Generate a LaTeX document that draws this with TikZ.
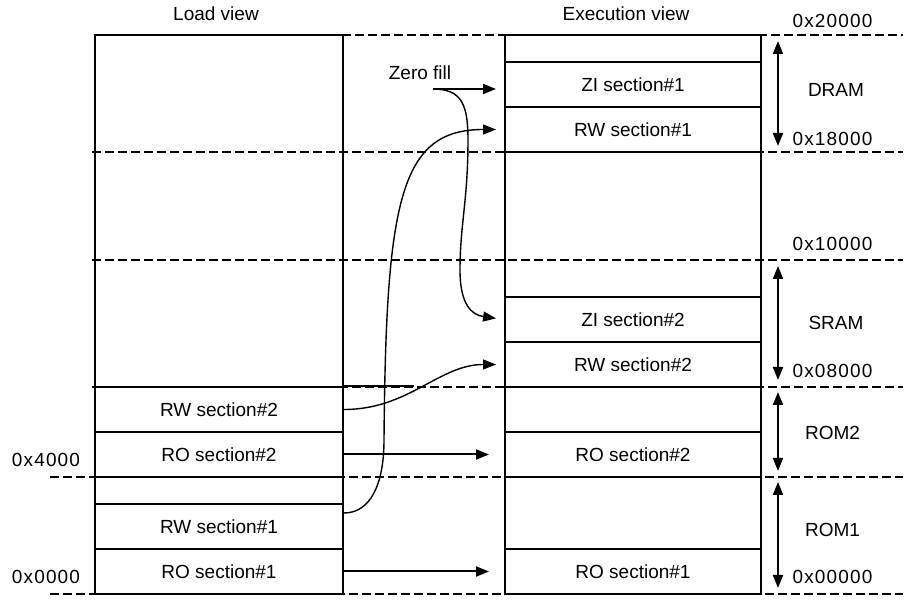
\documentclass[tikz,border=0pt]{standalone}
\usepackage{fontspec}
\setmainfont{Liberation Sans}
\usetikzlibrary{arrows.meta}
\tikzset{memmap/.style={x=0.5pt,y=-0.5pt,font=\fontsize{9.5}{11}\selectfont},
  secbox/.style={draw,line width=1pt,minimum height=22.5pt,inner sep=0pt},
  lsec/.style={secbox,minimum width=124pt},
  esec/.style={secbox,minimum width=128pt},
  lbl/.style={inner sep=0pt},
  addr/.style={lbl,font=\fontsize{9.5}{11}\selectfont\addfontfeature{LetterSpace=6}},
  bound/.style={dash pattern=on 4.5pt off 2pt,line width=0.85pt},
  span/.style={{Triangle[length=6.5pt,width=5pt]}-{Triangle[length=6.5pt,width=5pt]},line width=1pt},
  mapto/.style={-{Triangle[length=6.5pt,width=5pt]},line width=1pt},
  fillto/.style={-{Triangle[length=6.5pt,width=5pt]},line width=0.7pt}}

\begin{document}
\begin{tikzpicture}[memmap]
    \useasboundingbox (0,0) rectangle (918,609);
    % region boundaries
    \foreach \y/\xs in {35/95,152/92,260/92,387/92,477/50,594/50}
      \draw[bound] (\xs,\y) -- (903,\y);
    \draw[line width=1pt] (95,35) rectangle (343,594);
    \draw[line width=1pt] (505,35) rectangle (761,594);
    \node[lbl] (lhead) at (216,14) {Load view};
    \node[lbl] (ehead) at (626,14) {Execution view};
    % load view
    \node[lsec] (lrw2) at (219,409.5) {RW section\#2};
    \node[lsec] (lro2) at (219,454.5) {RO section\#2};
    \node[lsec] (lrw1) at (219,526.5) {RW section\#1};
    \node[lsec] (lro1) at (219,571.5) {RO section\#1};
    \draw[line width=1pt] (lrw2.north east) -- ++(70,0);
    % execution view
    \node[esec] (ezi1) at (633,84.5) {ZI section\#1};
    \node[esec] (erw1) at (633,129.5) {RW section\#1};
    \node[esec] (ezi2) at (633,319.5) {ZI section\#2};
    \node[esec] (erw2) at (633,364.5) {RW section\#2};
    \node[esec] (ero2) at (633,454.5) {RO section\#2};
    \node[esec] (ero1) at (633,571.5) {RO section\#1};
    % addresses and regions
    \foreach \y/\a in {21/0x20000,138.5/0x18000,244/0x10000,370.5/0x08000,576.5/0x00000}
      \node[addr] (a\a) at (832.5,\y) {\a};
    \node[addr] (a4000) at (46,460) {0x4000};
    \node[addr] (a0000) at (46,576.5) {0x0000};
    \node[lbl] (dram) at (836,89.5) {DRAM};
    \node[lbl] (sram) at (836,322.5) {SRAM};
    \node[lbl] (rom2) at (832.5,432.5) {ROM2};
    \node[lbl] (rom1) at (832.5,529.5) {ROM1};
    \foreach \ya/\yb in {41/146,266/380,392/471,482/588}
      \draw[span] (778,\ya) -- (778,\yb);
    % copies
    \node[lbl] (zf) at (420,72.5) {Zero fill};
    \coordinate (zfs) at (433,89);
    \draw[mapto,shorten >=4pt] (zfs) -- (zfs -| ezi1.west);
    \draw[fillto,shorten >=4pt] (zfs) .. controls (462,89) and (468,105) .. (468,140)
      .. controls (468,200) and (460,225) .. (460,270)
      .. controls (460,305) and (472,315) .. (ezi2.west);
    \draw[fillto,shorten >=4pt] ([yshift=6.75pt]lrw1.east) .. controls (370,513) and (384,485) .. (384,440)
      .. controls (386,200) and (400,129.5) .. (erw1.west);
    \draw[fillto,shorten >=4pt] (lrw2.east) to[out=0,in=180] (erw2.west);
    \draw[mapto,shorten >=7.5pt] (lro2.east) -- (ero2.west);
    \draw[mapto,shorten >=7.5pt] (lro1.east) -- (ero1.west);
\end{tikzpicture}
\end{document}
